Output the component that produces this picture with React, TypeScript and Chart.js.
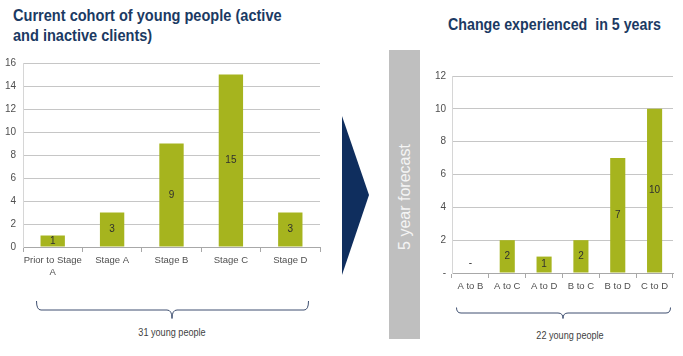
import React, { useEffect, useRef } from "react";
import { Chart, registerables } from "chart.js";

Chart.register(...registerables);

const leftCategories: (string | string[])[] = [["Prior to Stage", "A"], "Stage A", "Stage B", "Stage C", "Stage D"];
const leftValues = [1, 3, 9, 15, 3];
const leftTicks = { min: 0, max: 16, step: 2 };

const rightCategories = ["A to B", "A to C", "A to D", "B to C", "B to D", "C to D"];
const rightValues = [0, 2, 1, 2, 7, 10];
const rightTicks = { min: 0, max: 12, step: 2 };

const leftTitle = ["Current cohort of young people (active", "and inactive clients)"];
const rightTitle = "Change experienced  in 5 years";
const leftTotal = "31 young people";
const rightTotal = "22 young people";
const forecastLabel = "5 year forecast";

const FONT = "'Liberation Sans', Arial, sans-serif";
const BAR = "#A6B41E";
const NAVY = "#1B3A63";

const valueLabels = {
  id: "valueLabels",
  afterDatasetsDraw(chart: any) {
    const ctx = chart.ctx;
    const meta = chart.getDatasetMeta(0);
    const data = chart.data.datasets[0].data as number[];
    ctx.save();
    ctx.font = `10px ${FONT}`;
    ctx.fillStyle = "#2F2F2F";
    ctx.textAlign = "center";
    ctx.textBaseline = "middle";
    meta.data.forEach((el: any, i: number) => {
      const v = data[i];
      const y = v === 0 ? el.base - 10 : (el.y + el.base) / 2;
      ctx.fillText(v === 0 ? "-" : String(v), el.x, y);
    });
    ctx.restore();
  },
};

function makeConfig(
  labels: any[],
  values: number[],
  ticks: { min: number; max: number; step: number },
  yWidth: number,
  yPad: number,
  xHeight: number,
  padTop: number,
  padRight: number,
  zeroDash: boolean
): any {
  return {
    type: "bar",
    data: {
      labels,
      datasets: [
        {
          data: values,
          backgroundColor: BAR,
          borderWidth: 0,
          barPercentage: 0.41,
          categoryPercentage: 1,
        },
      ],
    },
    options: {
      animation: false,
      responsive: false,
      maintainAspectRatio: false,
      layout: { padding: { top: padTop, right: padRight, left: 0, bottom: 0 } },
      plugins: { legend: { display: false }, tooltip: { enabled: false } },
      scales: {
        x: {
          grid: {
            display: true,
            drawOnChartArea: false,
            drawTicks: true,
            tickLength: 5,
            color: "#A8A8A8",
            offset: true,
          },
          border: { display: true, color: "#A8A8A8" },
          ticks: {
            font: { family: FONT, size: 9.5 },
            color: "#4F4F4F",
            padding: 3,
            maxRotation: 0,
            autoSkip: false,
          },
          afterFit(scale: any) {
            scale.height = xHeight;
          },
        },
        y: {
          min: ticks.min,
          max: ticks.max,
          grid: { color: "#C6C6C6", drawTicks: false },
          border: { display: true, color: "#D6D6D6" },
          ticks: {
            stepSize: ticks.step,
            padding: yPad,
            font: { family: FONT, size: 10 },
            color: "#4F4F4F",
            callback: (v: number) => (zeroDash && v === 0 ? "-" : String(v)),
          },
          afterFit(scale: any) {
            scale.width = yWidth;
          },
        },
      },
    },
    plugins: [valueLabels],
  };
}

function BarChart(props: { config: any; style: React.CSSProperties; width: number; height: number }) {
  const ref = useRef<HTMLCanvasElement | null>(null);
  useEffect(() => {
    if (!ref.current) return;
    const chart = new Chart(ref.current, props.config);
    return () => chart.destroy();
  }, []);
  return (
    <canvas
      ref={ref}
      width={props.width}
      height={props.height}
      style={{ position: "absolute", width: props.width, height: props.height, ...props.style }}
    />
  );
}

export default function App() {
  const leftConfig = makeConfig(leftCategories, leftValues, leftTicks, 23, 7, 43, 11, 10, false);
  const rightConfig = makeConfig(rightCategories, rightValues, rightTicks, 27, 6, 27, 16, 10, true);

  return (
    <div
      style={{
        position: "fixed",
        left: 0,
        top: 0,
        width: 683,
        height: 356,
        background: "#FFFFFF",
        overflow: "hidden",
        fontFamily: FONT,
      }}
    >
      <svg width={683} height={356} style={{ position: "absolute", left: 0, top: 0 }}>
        <rect x={389} y={50} width={31} height={289} fill="#BFBFBF" />
        <polygon points="342,116 369,195 342,275" fill="#0F2E5E" />
        <path
          d="M36.5 301 Q36.5 310 41 310 L167 310 Q172 310 172 318.5 Q172 310 177 310 L304 310 Q308.5 310 308.5 301"
          fill="none"
          stroke="#3E4F70"
          strokeWidth={1}
        />
        <path
          d="M456.5 307.5 Q456.5 313 461 313 L558 313 Q563 313 563 318.5 Q563 313 568 313 L666 313 Q670.5 313 670.5 307.5"
          fill="none"
          stroke="#3E4F70"
          strokeWidth={1}
        />
      </svg>

      <div
        style={{
          position: "absolute",
          left: 13,
          top: 6,
          fontSize: 16,
          lineHeight: "20px",
          fontWeight: "bold",
          color: NAVY,
          whiteSpace: "nowrap",
          transform: "scaleX(0.91)",
          transformOrigin: "left top",
        }}
      >
        <div>{leftTitle[0]}</div>
        <div>{leftTitle[1]}</div>
      </div>

      <div
        style={{
          position: "absolute",
          left: 448,
          top: 15,
          fontSize: 16,
          lineHeight: "20px",
          fontWeight: "bold",
          color: NAVY,
          whiteSpace: "pre",
          transform: "scaleX(0.89)",
          transformOrigin: "left top",
        }}
      >
        {rightTitle}
      </div>

      <div
        style={{
          position: "absolute",
          left: 405,
          top: 197,
          fontSize: 16,
          lineHeight: "18px",
          color: "#F4F4F4",
          whiteSpace: "nowrap",
          transform: "translate(-50%, -50%) rotate(-90deg)",
        }}
      >
        {forecastLabel}
      </div>

      <BarChart config={leftConfig} width={330} height={240} style={{ left: 0, top: 50 }} />
      <BarChart config={rightConfig} width={258} height={240} style={{ left: 425, top: 60 }} />

      <div
        style={{
          position: "absolute",
          left: 172,
          top: 333,
          fontSize: 10,
          lineHeight: "12px",
          color: "#3F3F3F",
          whiteSpace: "nowrap",
          transform: "translate(-50%, -50%) scaleX(0.91)",
        }}
      >
        {leftTotal}
      </div>
      <div
        style={{
          position: "absolute",
          left: 570,
          top: 336,
          fontSize: 10,
          lineHeight: "12px",
          color: "#3F3F3F",
          whiteSpace: "nowrap",
          transform: "translate(-50%, -50%) scaleX(0.91)",
        }}
      >
        {rightTotal}
      </div>
    </div>
  );
}
